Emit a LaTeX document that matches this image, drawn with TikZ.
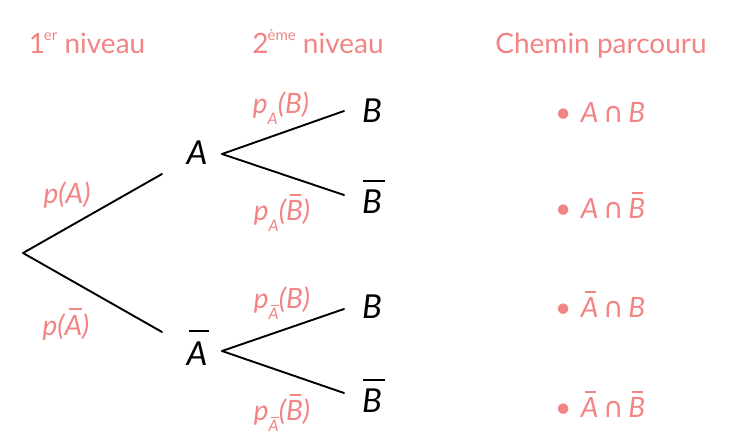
\documentclass[tikz,border=0pt]{standalone}
\usepackage{fontspec}
\setmainfont{Lato}
\newfontfamily\dejavu{DejaVu Sans}
\definecolor{pk}{HTML}{F28484}
% #1 gap, #2 left inset, #3 right inset, #4 rule thickness, #5 text
\newcommand\ovl[5]{\leavevmode\vbox{\offinterlineskip\setbox0\hbox{#5}\hbox to\wd0{\hskip#2\leaders\hrule height #4 depth 0pt\hfill\hskip#3}\kern#1\box0}}
\newcommand\sub[1]{\raisebox{-0.42em}{\fontsize{16}{18}\selectfont\itshape #1}}
\newcommand\inter{\,{\dejavu\upshape ∩}\,}
\begin{document}
\begin{tikzpicture}[x=1pt,y=-1pt,
  head/.style={text=pk,font=\fontsize{28}{33}\selectfont,anchor=base,inner sep=0pt},
  lab/.style={text=pk,font=\fontsize{28}{32}\selectfont\itshape,anchor=base,inner sep=0pt},
  ev/.style={font=\fontsize{33}{38}\selectfont\itshape,anchor=base,inner sep=0pt},
  path/.style={text=pk,font=\fontsize{28}{32}\selectfont\itshape,anchor=base west,inner sep=0pt},
  branch/.style={line width=1.9pt,line cap=round}]
\useasboundingbox (0,0) rectangle (730,447);
% headings
\node[head] (h1) at (87,53) {1\kern-1pt\raisebox{0.45em}{\fontsize{15}{17}\selectfont er} niveau};
\node[head] (h2) at (318,53) {2\kern-1pt\raisebox{0.45em}{\fontsize{15}{17}\selectfont ème} niveau};
\node[head] (h3) at (601,53) {Chemin parcouru};
% first level
\coordinate (r) at (23,253);
\coordinate (a1) at (162,174);
\coordinate (a2) at (162,332);
\node[ev] (A) at (197,164) {A};
\node[ev] (Ab) at (197,365) {\ovl{9pt}{2pt}{-2pt}{2pt}{A}};
\draw[branch] (r) -- (a1);
\draw[branch] (r) -- (a2);
\node[lab] (pA) at (67,203) {p(A)};
\node[lab] (pAb) at (66,335) {p(\ovl{5pt}{4pt}{0pt}{1.6pt}{A})};
% second level, upper
\coordinate (s1) at (222,154);
\coordinate (b1) at (344,111);
\coordinate (b2) at (344,195);
\draw[branch] (s1) -- (b1);
\draw[branch] (s1) -- (b2);
\node[ev] (B1) at (372,122) {B};
\node[ev] (B2) at (372,213) {\ovl{7pt}{1pt}{-3pt}{2pt}{B}};
\node[lab] (pAB) at (281,113) {p\sub{A}(B)};
\node[lab] (pABb) at (282,220) {p\sub{A}(\ovl{4pt}{4pt}{2pt}{1.6pt}{B})};
% second level, lower
\coordinate (s2) at (222,351);
\coordinate (b3) at (344,309);
\coordinate (b4) at (344,393);
\draw[branch] (s2) -- (b3);
\draw[branch] (s2) -- (b4);
\node[ev] (B3) at (372,318) {B};
\node[ev] (B4) at (372,412) {\ovl{7pt}{1pt}{-3pt}{2pt}{B}};
\node[lab] (pAbB) at (282,308) {p\sub{\ovl{2pt}{2pt}{0pt}{1pt}{A}}(B)};
\node[lab] (pAbBb) at (282,420) {p\sub{\ovl{2pt}{2pt}{0pt}{1pt}{A}}(\ovl{4pt}{4pt}{2pt}{1.6pt}{B})};
% paths
\node[path] (c1) at (555,122) {{\upshape•}\,\,A\inter B};
\node[path] (c2) at (555,218) {{\upshape•}\,\,A\inter\ovl{4pt}{4pt}{2pt}{1.6pt}{B}};
\node[path] (c3) at (555,317) {{\upshape•}\,\,\ovl{4pt}{4pt}{2pt}{1.6pt}{A}\inter B};
\node[path] (c4) at (555,417) {{\upshape•}\,\,\ovl{4pt}{4pt}{2pt}{1.6pt}{A}\inter\ovl{4pt}{4pt}{2pt}{1.6pt}{B}};
\end{tikzpicture}
\end{document}
